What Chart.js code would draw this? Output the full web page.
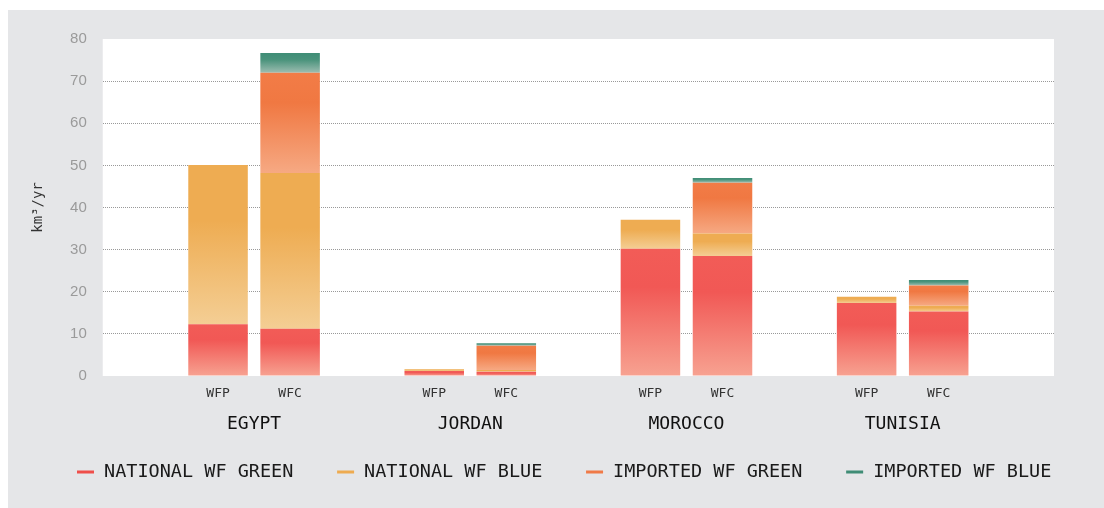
<!DOCTYPE html>
<html>
<head>
<meta charset="utf-8">
<script src="https://cdn.jsdelivr.net/npm/chart.js@4.4.1/dist/chart.umd.min.js"></script>
<style>
  html, body { margin: 0; padding: 0; background: #ffffff; }
  #panel { position: absolute; left: 8px; top: 10px; width: 1096px; height: 498px; background: #e5e6e8; }
  canvas { display: block; }
</style>
</head>
<body>
<div id="panel"><canvas id="chart" width="1096" height="498"></canvas></div>
<script>
// Water footprint of production (WFP) and consumption (WFC), km³/yr
const COUNTRIES = ['EGYPT', 'JORDAN', 'MOROCCO', 'TUNISIA'];
const FOOTPRINTS = ['WFP', 'WFC'];
const Y_TICKS = [0, 10, 20, 30, 40, 50, 60, 70, 80];

const NATIONAL_GREEN_WFP = [12.3, 1.2, 30.2, 17.3];
const NATIONAL_BLUE_WFP  = [37.8, 0.4, 6.9, 1.5];
const NATIONAL_GREEN_WFC = [11.2, 1.0, 28.5, 15.3];
const NATIONAL_BLUE_WFC  = [37.0, 0.4, 5.3, 1.4];
const IMPORTED_GREEN_WFC = [23.8, 5.8, 12.1, 4.8];
const IMPORTED_BLUE_WFC  = [4.7, 0.6, 1.1, 1.3];

const MONO = '"DejaVu Sans Mono", "Liberation Mono", monospace';
const SANS = '"Liberation Sans", Arial, sans-serif';

// Colour ramps: each segment fades from its strong tone at the top to a pale one at its base
const PALETTE = {
  'NATIONAL WF GREEN':  { solid: '#ef4f4a', stops: [[0, '#f25c57'], [0.3, '#f15855'], [1, '#f7a291']] },
  'NATIONAL WF BLUE':   { solid: '#eeab50', stops: [[0, '#eeac52'], [0.35, '#eeac52'], [1, '#f4ce94']] },
  'IMPORTED WF GREEN':  { solid: '#f07a47', stops: [[0, '#f27c47'], [0.3, '#f07842'], [1, '#f6a983']] },
  'IMPORTED WF BLUE':   { solid: '#3f8c75', stops: [[0, '#3f8d76'], [0.35, '#4a937c'], [1, '#9dbdb1']] }
};

function segmentFill(label) {
  const pal = PALETTE[label];
  return (c) => {
    const chart = c.chart;
    const yScale = chart.scales && chart.scales.y;
    if (!yScale || c.type !== 'data') return pal.solid;
    const sets = chart.data.datasets;
    const ds = sets[c.datasetIndex];
    let lo = 0;
    for (let k = 0; k < c.datasetIndex; k++) {
      if (sets[k].stack === ds.stack) lo += sets[k].data[c.dataIndex].y;
    }
    const hi = lo + ds.data[c.dataIndex].y;
    const top = yScale.getPixelForValue(hi);
    const bottom = yScale.getPixelForValue(lo);
    if (!isFinite(top) || !isFinite(bottom) || Math.abs(bottom - top) < 0.01) return pal.solid;
    const g = chart.ctx.createLinearGradient(0, top, 0, bottom);
    pal.stops.forEach(([o, col]) => g.addColorStop(o, col));
    return g;
  };
}

function series(label, stack, values) {
  return {
    label,
    stack,
    data: values.map((v, i) => ({ x: i, y: v })),
    backgroundColor: segmentFill(label),
    hoverBackgroundColor: segmentFill(label),
    borderWidth: 0,
    categoryPercentage: 2 / 3,
    barPercentage: 0.826
  };
}

const datasets = [
  series('NATIONAL WF GREEN', 'WFP', NATIONAL_GREEN_WFP),
  series('NATIONAL WF BLUE',  'WFP', NATIONAL_BLUE_WFP),
  series('NATIONAL WF GREEN', 'WFC', NATIONAL_GREEN_WFC),
  series('NATIONAL WF BLUE',  'WFC', NATIONAL_BLUE_WFC),
  series('IMPORTED WF GREEN', 'WFC', IMPORTED_GREEN_WFC),
  series('IMPORTED WF BLUE',  'WFC', IMPORTED_BLUE_WFC)
];

// White plotting area on the grey panel
const plotBackground = {
  id: 'plotBackground',
  beforeDraw(chart) {
    const { ctx, chartArea: a } = chart;
    ctx.save();
    ctx.fillStyle = '#ffffff';
    ctx.fillRect(a.left, a.top, a.right - a.left, a.bottom - a.top);
    ctx.restore();
  }
};

Chart.defaults.font.family = MONO;

new Chart(document.getElementById('chart'), {
  type: 'bar',
  data: { datasets },
  plugins: [plotBackground],
  options: {
    responsive: false,
    animation: false,
    devicePixelRatio: 1,
    layout: { padding: { left: 25.25, right: 0, top: 29, bottom: 16.75 } },
    plugins: {
      legend: {
        position: 'bottom',
        align: 'start',
        // empty title used only to pull the single legend row up towards the axis labels
        title: { display: true, text: '', font: { size: 10, lineHeight: 1 }, padding: { top: -27.05, bottom: 0 } },
        labels: {
          color: '#1a1a1a',
          font: { family: MONO, size: 18.5 },
          usePointStyle: true,
          pointStyle: 'line',
          boxWidth: 18.5,
          boxHeight: 12.02,
          padding: 43,
          generateLabels(chart) {
            const seen = new Set();
            return Chart.defaults.plugins.legend.labels.generateLabels(chart)
              .filter(item => { if (seen.has(item.text)) return false; seen.add(item.text); return true; })
              .map(item => Object.assign(item, {
                fillStyle: PALETTE[item.text].solid,
                strokeStyle: PALETTE[item.text].solid,
                lineWidth: 3,
                lineCap: 'butt',
                pointStyle: 'line'
              }));
          }
        },
        onClick(e, item, legend) {
          const chart = legend.chart;
          const hide = chart.isDatasetVisible(item.datasetIndex);
          chart.data.datasets.forEach((ds, i) => {
            if (ds.label === item.text) chart.setDatasetVisibility(i, !hide);
          });
          chart.update();
        }
      }
    },
    scales: {
      x: {
        type: 'linear',
        stacked: true,
        min: -0.7,
        max: 3.7,
        offset: false,
        position: 'bottom',
        weight: 1,
        afterBuildTicks: (axis) => { axis.ticks = COUNTRIES.map((_, i) => ({ value: i })); },
        ticks: {
          autoSkip: false,
          maxRotation: 0,
          padding: 1.6,
          color: '#111111',
          font: { family: MONO, size: 18 },
          callback: (v) => COUNTRIES[Math.round(v)]
        },
        grid: { display: false, drawTicks: false },
        border: { display: false }
      },
      xSub: {
        type: 'linear',
        min: -0.7,
        max: 3.7,
        offset: false,
        position: 'bottom',
        weight: 0,
        afterBuildTicks: (axis) => {
          axis.ticks = COUNTRIES.flatMap((_, i) => FOOTPRINTS.map((f, j) => ({ value: i + (j - 0.5) / 3 })));
        },
        ticks: {
          autoSkip: false,
          maxRotation: 0,
          padding: 10.2,
          color: '#333333',
          font: { family: MONO, size: 13 },
          callback: (v) => FOOTPRINTS[v - Math.round(v) < 0 ? 0 : 1]
        },
        grid: { display: false, drawTicks: false },
        border: { display: false }
      },
      y: {
        stacked: true,
        min: 0,
        max: 80,
        afterBuildTicks: (axis) => { axis.ticks = Y_TICKS.map(v => ({ value: v })); },
        ticks: {
          padding: 16,
          color: '#9a9a9a',
          font: { family: SANS, size: 15 }
        },
        grid: {
          drawTicks: false,
          lineWidth: 1,
          color: (c) => (c.tick && c.tick.value > 0 && c.tick.value < 80) ? '#999999' : 'rgba(0,0,0,0)'
        },
        border: { display: false, dash: [1, 1] },
        title: {
          display: true,
          text: 'km³/yr',
          color: '#333333',
          font: { family: MONO, size: 14 },
          padding: { top: -3, bottom: 7 }
        }
      },
      // empty right-hand margin beside the plot
      yMargin: {
        type: 'linear',
        position: 'right',
        display: true,
        ticks: { display: false },
        grid: { display: false, drawTicks: false },
        border: { display: false },
        afterFit: (axis) => { axis.width = 50; }
      }
    }
  }
});
</script>
</body>
</html>
